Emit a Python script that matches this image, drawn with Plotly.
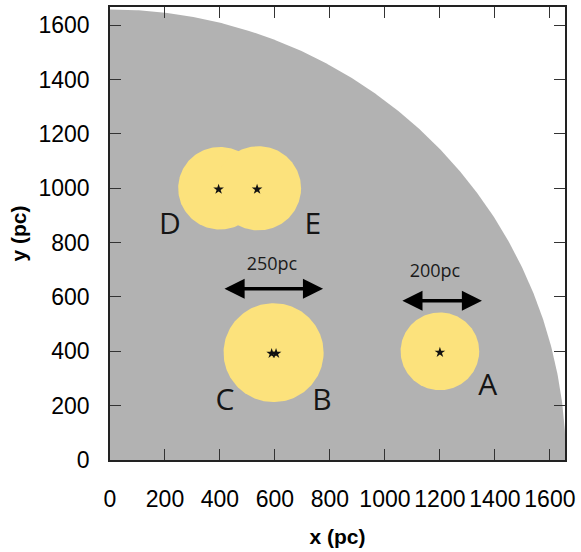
import numpy as np
import plotly.graph_objects as go

# ---- data ----
disk_radius = 1658  # pc, gray galactic disk quadrant

cloud_names = ["A", "BC", "D", "E"]
cloud_x = [1200, 595, 400, 540]
cloud_y = [400, 395, 1000, 1000]
cloud_r = [143, 182, 152, 155]

star_x = [1200, 588, 604, 395, 535]
star_y = [396, 392, 392, 996, 996]

label_text = ["A", "B", "C", "D", "E"]
label_x = [1374, 771, 418, 218, 738]
label_y = [267, 212, 212, 861, 861]

arrow_x0 = [1058, 411]
arrow_x1 = [1353, 775]
arrow_y = [586, 630]
arrow_text = ["200pc", "250pc"]
arrow_text_x = [1182, 589]
arrow_text_y = [689, 714]

x_ticks = [0, 200, 400, 600, 800, 1000, 1200, 1400, 1600]
y_ticks = [0, 200, 400, 600, 800, 1000, 1200, 1400, 1600]

GRAY = "#b2b2b2"
YELLOW = "#fce27c"

fig = go.Figure()

# gray quarter disk
th = np.linspace(0, np.pi / 2, 300)
dx = np.concatenate([[0], disk_radius * np.cos(th), [0]])
dy = np.concatenate([[0], disk_radius * np.sin(th), [0]])
fig.add_trace(go.Scatter(x=dx, y=dy, mode="lines", fill="toself",
                         fillcolor=GRAY, line=dict(width=0), hoverinfo="skip",
                         showlegend=False))

# yellow clouds
t = np.linspace(0, 2 * np.pi, 200)
for cx, cy, r in zip(cloud_x, cloud_y, cloud_r):
    fig.add_trace(go.Scatter(x=cx + r * np.cos(t), y=cy + r * np.sin(t),
                             mode="lines", fill="toself", fillcolor=YELLOW,
                             line=dict(width=0),
                             hoverinfo="skip", showlegend=False))

# stars
fig.add_trace(go.Scatter(x=star_x, y=star_y, mode="markers",
                         marker=dict(symbol="star", size=8, color="#111111"),
                         showlegend=False))

# letter labels
fig.add_trace(go.Scatter(x=label_x, y=label_y, mode="text", text=label_text,
                         textfont=dict(family="Open Sans", size=30, color="#151515"),
                         showlegend=False))

# scale arrows
for x0, x1, y in zip(arrow_x0, arrow_x1, arrow_y):
    fig.add_annotation(x=x1, y=y, ax=x0, ay=y, xref="x", yref="y",
                       axref="x", ayref="y", text="", showarrow=True,
                       arrowhead=2, arrowside="end+start", arrowsize=1.15,
                       arrowwidth=3.5, arrowcolor="#000000")
fig.add_trace(go.Scatter(x=arrow_text_x, y=arrow_text_y, mode="text",
                         text=arrow_text,
                         textfont=dict(family="Open Sans", size=18, color="#1a1a1a"),
                         showlegend=False))

axis_common = dict(showgrid=False, zeroline=False, showline=True,
                   linecolor="#222222", linewidth=1.5, mirror="ticks",
                   ticks="inside", ticklen=11, tickcolor="#333333",
                   tickwidth=1,
                   tickfont=dict(family="Liberation Sans", size=23, color="#000000"))

fig.update_xaxes(range=[0, 1655], tickvals=x_ticks,
                 ticktext=[str(v) for v in x_ticks],
                 ticklabelstandoff=18,
                 title=dict(text="<b>x (pc)</b>", standoff=18,
                            font=dict(family="Liberation Sans", size=21, color="#000")),
                 **axis_common)
fig.update_yaxes(range=[0, 1667], tickvals=y_ticks,
                 ticktext=[str(v) for v in y_ticks],
                 ticklabelstandoff=14,
                 title=dict(text="<b>y (pc)</b>", standoff=6,
                            font=dict(family="Liberation Sans", size=21, color="#000")),
                 **axis_common)

fig.update_layout(width=581, height=552,
                  margin=dict(l=110, r=16, t=5, b=92),
                  paper_bgcolor="white", plot_bgcolor="white",
                  showlegend=False)

fig.write_html("out.html")
